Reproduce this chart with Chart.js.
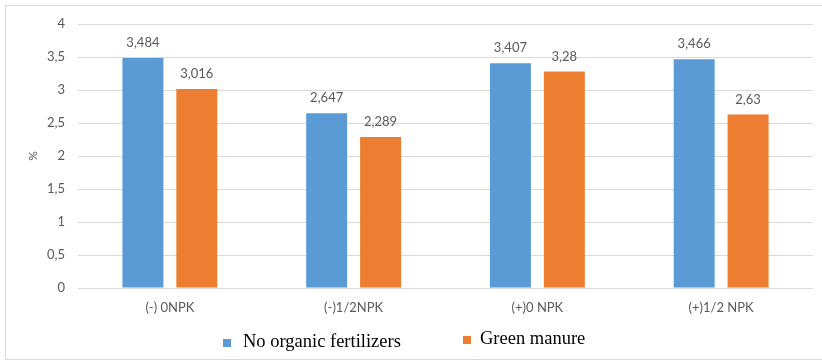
<!DOCTYPE html>
<html>
<head>
<meta charset="utf-8">
<script src="https://cdn.jsdelivr.net/npm/chart.js@4/dist/chart.umd.min.js"></script>
<style>
  html, body { margin: 0; padding: 0; background: #ffffff; }
  #wrap { position: relative; width: 822px; height: 361px; }
  #frame { position: absolute; left: 5px; top: 5px; width: 830px; height: 355px; border: 1px solid #d9d9d9; box-sizing: border-box; }
  canvas { position: absolute; left: 0; top: 0; }
</style>
</head>
<body>
<div id="wrap">
  <div id="frame"></div>
  <canvas id="chart" width="822" height="361"></canvas>
</div>
<script>
// Treatments and humus content (%) for each fertilization variant
const categories = ['(-) 0NPK', '(-)1/2NPK', '(+)0 NPK', '(+)1/2 NPK'];
const noOrganic = [3.484, 2.647, 3.407, 3.466];
const greenManure = [3.016, 2.289, 3.28, 2.63];
const yTicks = [0, 0.5, 1, 1.5, 2, 2.5, 3, 3.5, 4];

const toComma = v => String(v).replace('.', ',');

// Writes each bar's value above it
const valueLabels = {
  id: 'valueLabels',
  afterDatasetsDraw(chart) {
    const ctx = chart.ctx;
    ctx.save();
    ctx.font = '13px Lato, "Open Sans", sans-serif';
    ctx.fillStyle = '#595959';
    ctx.textAlign = 'center';
    ctx.textBaseline = 'middle';
    chart.data.datasets.forEach((ds, di) => {
      chart.getDatasetMeta(di).data.forEach((bar, i) => {
        ctx.fillText(toComma(ds.data[i]), bar.x, bar.y - 15);
      });
    });
    ctx.restore();
  }
};

// Legend row under the axis: swatch + serif label per series
const legendRow = {
  id: 'legendRow',
  afterDraw(chart) {
    const ctx = chart.ctx;
    const slots = [
      { box: 223, text: 243, base: 347 },
      { box: 463, text: 480, base: 344 }
    ];
    ctx.save();
    ctx.font = '18.5px "Liberation Serif", "Times New Roman", serif';
    ctx.textBaseline = 'alphabetic';
    ctx.textAlign = 'left';
    chart.data.datasets.forEach((ds, i) => {
      const s = slots[i];
      ctx.fillStyle = ds.backgroundColor;
      ctx.fillRect(s.box, s.base - 8, 8, 8);
      ctx.fillStyle = '#000000';
      ctx.fillText(ds.label, s.text, s.base);
    });
    ctx.restore();
  }
};

new Chart(document.getElementById('chart'), {
  type: 'bar',
  data: {
    labels: categories,
    datasets: [
      { label: 'No organic fertilizers', data: noOrganic, backgroundColor: '#5b9bd5' },
      { label: 'Green manure', data: greenManure, backgroundColor: '#ed7d31' }
    ]
  },
  options: {
    responsive: false,
    animation: false,
    layout: { padding: { left: 0, right: 9, top: 24, bottom: 41 } },
    datasets: { bar: { categoryPercentage: 0.587, barPercentage: 0.76 } },
    scales: {
      x: {
        grid: { display: false, drawTicks: false },
        border: { display: false },
        ticks: { color: '#595959', font: { family: 'Lato, "Open Sans", sans-serif', size: 13 }, padding: 12 },
        afterFit(scale) { scale.height = 32; }
      },
      y: {
        min: 0, max: 4,
        afterBuildTicks(scale) { scale.ticks = yTicks.map(v => ({ value: v })); },
        grid: { color: '#d9d9d9', drawTicks: false },
        border: { display: false },
        ticks: { color: '#595959', font: { family: 'Lato, "Open Sans", sans-serif', size: 13 }, padding: 13, callback: v => toComma(v) },
        title: { display: true, text: '%', color: '#595959', font: { family: 'Lato, "Open Sans", sans-serif', size: 12 }, padding: { top: 26, bottom: 0 } },
        afterFit(scale) { scale.width = 78; }
      }
    },
    plugins: {
      legend: { display: false },
      tooltip: { enabled: false }
    }
  },
  plugins: [valueLabels, legendRow]
});
</script>
</body>
</html>
